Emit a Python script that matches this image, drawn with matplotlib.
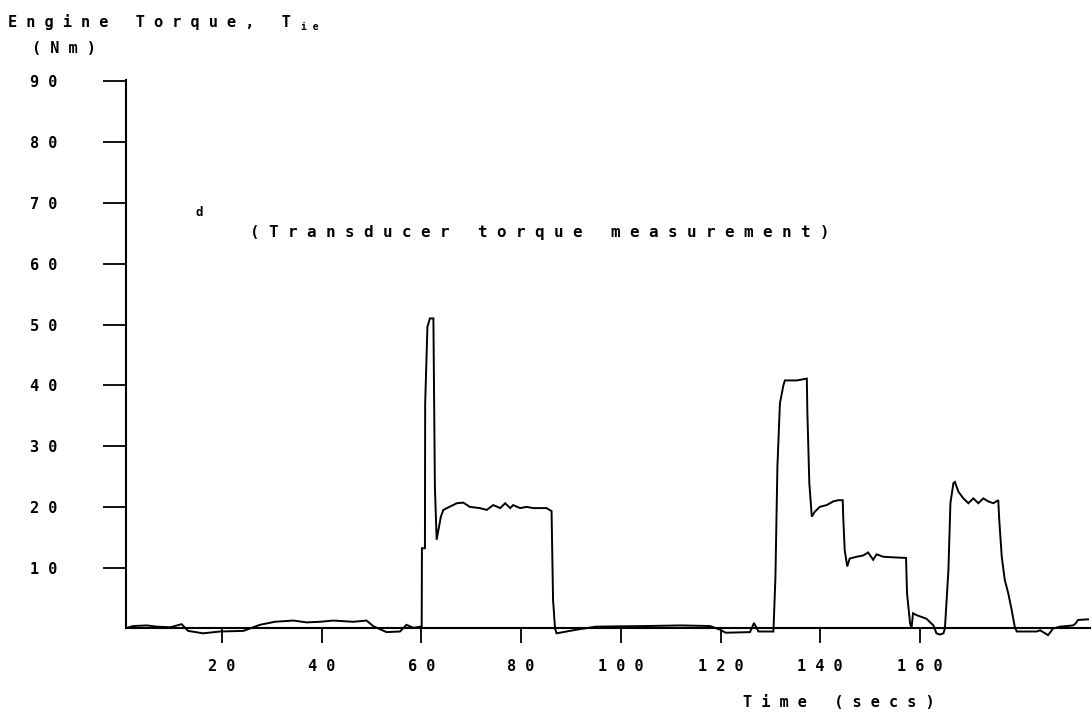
import matplotlib
matplotlib.use("Agg")
import matplotlib.pyplot as plt

# ---------------- data ----------------
time_s = [0.5, 2.2, 4.9, 6.9, 9.6, 11.9, 13.2, 16.2, 19.6, 24.3, 27.6, 30.6,
          34.3, 37.0, 39.7, 42.3, 46.3, 49.0, 50.3, 53.0, 55.7, 57.0, 58.4, 59.7,
          60.05, 60.1, 60.7, 60.75, 61.2, 61.7, 62.4, 62.5, 62.7, 63.05, 63.4, 63.9,
          64.4, 65.1, 67.1, 68.4, 69.7, 71.7, 73.1, 74.4, 75.8, 76.8, 77.8, 78.4,
          79.8, 81.1, 82.4, 85.1, 86.1, 86.4, 86.8, 87.1, 89.1, 91.1, 95.0, 105.0,
          112.0, 117.9, 119.9, 121.0, 125.9, 126.7, 127.6, 130.6, 131.0, 131.4, 131.9,
          132.6, 132.9, 135.3, 137.3, 137.4, 137.8, 138.3, 138.9, 139.9, 141.3, 142.6,
          143.6, 144.5, 144.6, 144.9, 145.4, 145.9, 147.3, 148.6, 149.6, 150.6, 151.3,
          152.6, 154.6, 157.2, 157.4, 158.0, 158.3, 158.6, 159.3, 161.3, 162.7, 163.3,
          164.0, 164.7, 165.0, 165.7, 166.1, 166.7, 167.0, 167.7, 168.7, 169.7, 170.7,
          171.7, 172.7, 173.7, 174.7, 175.7, 175.9, 176.4, 177.0, 177.7, 178.4, 179.0,
          179.4, 183.4, 184.1, 185.7, 186.7, 188.1, 190.7, 191.2, 191.7, 193.7]
torque_nm = [0.0, 0.4, 0.5, 0.3, 0.2, 0.7, -0.4, -0.8, -0.5, -0.4, 0.6, 1.1,
             1.3, 1.0, 1.1, 1.3, 1.1, 1.3, 0.4, -0.6, -0.5, 0.6, 0.1, 0.3,
             0.0, 13.2, 13.2, 37.0, 49.6, 51.0, 51.0, 42.0, 23.3, 14.6, 16.2, 18.4,
             19.5, 19.8, 20.6, 20.7, 20.0, 19.8, 19.5, 20.3, 19.8, 20.6, 19.8, 20.3,
             19.8, 20.0, 19.8, 19.8, 19.3, 4.7, 0.0, -0.8, -0.5, -0.2, 0.3, 0.4,
             0.5, 0.4, -0.2, -0.7, -0.6, 0.9, -0.5, -0.5, 8.3, 26.6, 37.0,
             40.0, 40.8, 40.8, 41.1, 35.9, 23.9, 18.4, 19.2, 20.0, 20.3, 20.9,
             21.1, 21.1, 18.4, 12.9, 10.2, 11.5, 11.8, 12.0, 12.5, 11.3, 12.2,
             11.8, 11.7, 11.6, 5.8, 0.9, 0.0, 2.5, 2.2, 1.6, 0.5, -0.8,
             -1.0, -0.8, 0.0, 9.6, 20.6, 23.9, 24.1, 22.5, 21.4, 20.6, 21.4,
             20.6, 21.4, 20.9, 20.6, 21.1, 17.8, 11.8, 8.0, 5.8, 3.0, 0.3,
             -0.5, -0.5, -0.3, -1.1, 0.0, 0.3, 0.5, 0.8, 1.4, 1.5]

x_ticks = [20, 40, 60, 80, 100, 120, 140, 160]
y_ticks = [10, 20, 30, 40, 50, 60, 70, 80, 90]

title_text = "Engine Torque, T"
title_sub = "ie"
unit_text = "(Nm)"
xlabel_text = "Time (secs)"
note_text = "(Transducer torque measurement)"


def spaced(s):
    return " ".join(s)


W, H = 1092, 717
FONT = "DejaVu Sans Mono"
fig = plt.figure(figsize=(W / 100, H / 100), dpi=100)
fig.patch.set_facecolor("white")

# pixel geometry of the plotting area
left_px, right_px = 126, 1090
bot_px, top_px = 646.7, 78.3
ax = fig.add_axes([left_px / W, 1 - bot_px / H,
                   (right_px - left_px) / W, (bot_px - top_px) / H])
ax.set_xlim(0.742, 194.1)
ax.set_ylim(-3.0, 90.5)
ax.set_facecolor("white")

ax.plot(time_s, torque_nm, color="black", lw=1.4, solid_joinstyle="miter")

for s in ("top", "right"):
    ax.spines[s].set_visible(False)
ax.spines["bottom"].set_position(("data", 0))
ax.spines["left"].set_bounds(0, 90.3)
for s in ("bottom", "left"):
    ax.spines[s].set_linewidth(1.5)
    ax.spines[s].set_color("black")

ax.set_xticks(x_ticks)
ax.set_xticklabels([spaced(str(v)) for v in x_ticks])
ax.set_yticks(y_ticks)
ax.set_yticklabels([spaced(str(v)) for v in y_ticks])
ax.tick_params(axis="x", direction="out", length=11, width=1.3, pad=11, colors="black")
ax.tick_params(axis="y", direction="out", length=16.5, width=1.3, pad=33, colors="black")
for lab in ax.get_xticklabels() + ax.get_yticklabels():
    lab.set_fontfamily(FONT)
    lab.set_fontsize(11)
    lab.set_fontweight("bold")

def ftext(xp, yp, s, size=11, **kw):
    fig.text(xp / W, 1 - yp / H, s, fontfamily=FONT, fontsize=size,
             fontweight="bold", ha="left", va="baseline", color="black", **kw)

ftext(8, 27, spaced(title_text))
ftext(301, 30, spaced(title_sub), size=7)
ftext(32, 53, spaced(unit_text))
ftext(743, 707, spaced(xlabel_text))
ftext(250, 237, spaced(note_text), size=11.4)
ftext(195, 216, "d", size=9)

fig.savefig("out.png", dpi=100, facecolor="white")
